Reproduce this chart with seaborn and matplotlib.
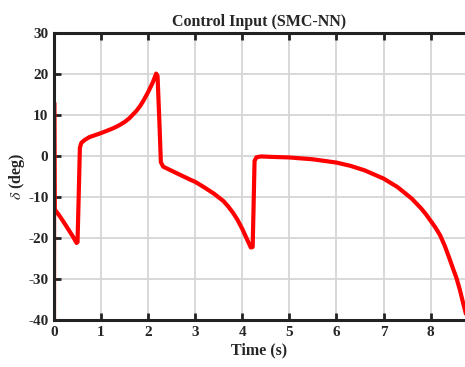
import matplotlib
matplotlib.use("Agg")
import matplotlib.pyplot as plt
import seaborn as sns
import pandas as pd

# control input trace (time in s, delta in deg)
time_s = [0.0, 0.004, 0.014, 0.1, 0.2, 0.3, 0.4, 0.48, 0.50, 0.52, 0.55, 0.58,
          0.65, 0.75, 0.9, 1.0, 1.2, 1.3, 1.4, 1.5, 1.6, 1.75, 1.83, 1.9, 2.0,
          2.05, 2.1, 2.17, 2.2, 2.24, 2.27, 2.32, 2.5, 2.7, 2.9, 3.0, 3.2, 3.4,
          3.6, 3.7, 3.8, 3.9, 4.0, 4.1, 4.18, 4.22, 4.24, 4.26, 4.30, 4.4, 4.6,
          5.0, 5.5, 6.0, 6.3, 6.6, 7.0, 7.3, 7.6, 7.8, 7.9, 8.0, 8.1, 8.2, 8.3,
          8.4, 8.48, 8.55, 8.62, 8.7, 8.75]
delta_deg = [-45, 13, -13.0, -14.3, -16.0, -17.8, -19.6, -21.2, -21.0, -12, 2.0, 3.2,
             3.9, 4.6, 5.2, 5.6, 6.5, 7.0, 7.6, 8.3, 9.2, 11.0, 12.2, 13.5, 15.6,
             16.8, 18.0, 20.1, 19.5, 8, -1.5, -2.6, -3.6, -4.7, -5.8, -6.3, -7.7, -9.2,
             -11.0, -12.3, -13.8, -15.6, -17.8, -20.3, -22.3, -22.2, -12, -1.2, -0.3, -0.1, -0.2,
             -0.35, -0.8, -1.6, -2.4, -3.5, -5.5, -7.6, -10.4, -12.8, -14.2, -15.8, -17.4, -19.3, -21.9,
             -25.0, -27.6, -29.8, -32.6, -36.3, -38.5]

x_ticks = [0, 1, 2, 3, 4, 5, 6, 7, 8]
y_ticks = [-40, -30, -20, -10, 0, 10, 20, 30]

df = pd.DataFrame({"t": time_s, "delta": delta_deg})

sns.set_style("white")
plt.rcParams["font.family"] = ["Liberation Serif", "DejaVu Serif"]
plt.rcParams["mathtext.fontset"] = "stix"
plt.rcParams["axes.unicode_minus"] = False

fig = plt.figure(figsize=(4.65, 3.67), dpi=100)
ax = fig.add_axes([0.1161, 0.128, 0.8839, 0.782])

sns.lineplot(data=df, x="t", y="delta", color="#ff0000", linewidth=3.0,
             sort=False, estimator=None, ax=ax)

ax.set_xlim(0, 8.73)
ax.set_ylim(-40, 30)
ax.set_xticks(x_ticks)
ax.set_yticks(y_ticks)
ax.grid(True, color="#d6d6d6", linewidth=1.3)
ax.set_axisbelow(True)

for side in ["left", "bottom", "top"]:
    ax.spines[side].set_color("#222222")
    ax.spines[side].set_linewidth(2.2)
ax.spines["right"].set_visible(False)
ax.tick_params(axis="both", direction="in", length=5, width=2, color="#222222",
               labelsize=11, pad=4, top=True, left=True, bottom=True)
for lbl in ax.get_xticklabels() + ax.get_yticklabels():
    lbl.set_fontweight("bold")

ax.set_xlabel("Time (s)", fontsize=11.5, fontweight="bold", labelpad=3)
ax.set_ylabel(r"$\delta$ (deg)", fontsize=11.5, fontweight="bold", labelpad=1)
ax.set_title("Control Input (SMC-NN)", fontsize=11.5, fontweight="bold", pad=5)

fig.savefig("out.png", dpi=100)
